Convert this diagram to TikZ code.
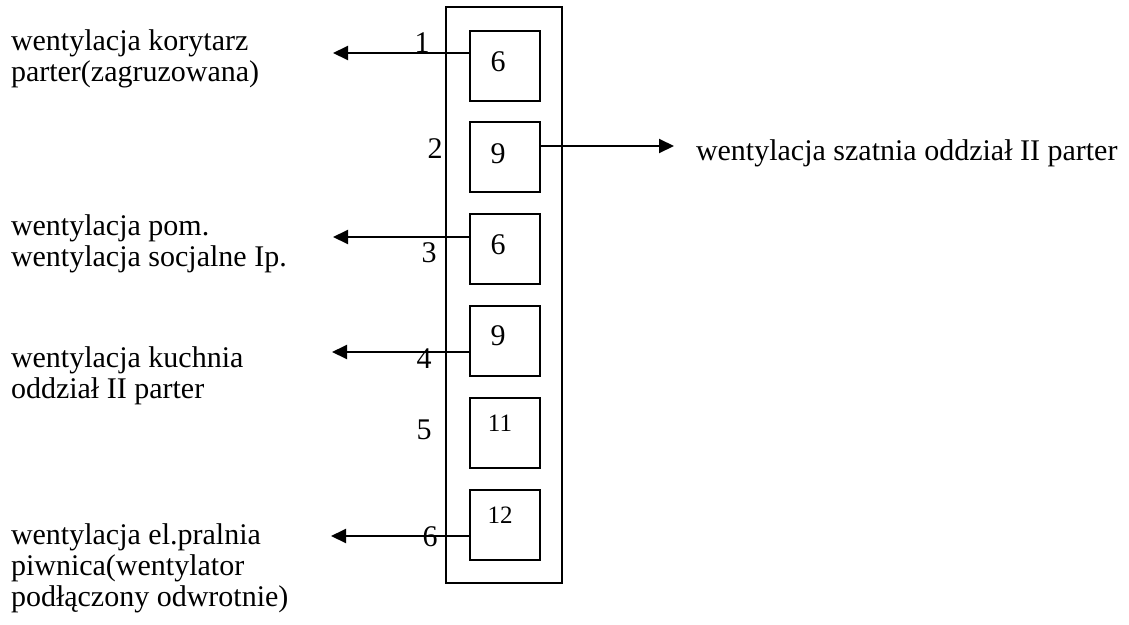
\documentclass[tikz,border=0pt]{standalone}
\usepackage{fontspec}
\setmainfont{Liberation Serif}
\usetikzlibrary{arrows.meta, positioning}

\begin{document}
\begin{tikzpicture}[x=1pt,y=-1pt,node distance=91.8pt,on grid,line width=2pt,font=\fontsize{30}{31}\selectfont]
    \tikzstyle{fan}=[shape=rectangle,draw,minimum size=70pt,inner sep=0pt]
    \tikzstyle{desc}=[anchor=base west,align=left,inner sep=0pt]
    \tikzstyle{num}=[inner sep=0pt]
    \tikzstyle{feed}=[draw,-{Triangle[length=15pt,width=14pt]}]

    \useasboundingbox (0,0) rectangle (1129,624);

    \node[fan, minimum width=116pt, minimum height=576pt] (rack) at (504,295) {};
    \node[fan] (f1) at (505,65.5) {};
    \node[fan, below of=f1] (f2) {};
    \node[fan, below of=f2] (f3) {};
    \node[fan, below of=f3] (f4) {};
    \node[fan, below of=f4] (f5) {};
    \node[fan, below of=f5] (f6) {};

    \node[num] (n1) at ([shift={(-7,-4)}]f1) {6};
    \node[num] (n2) at ([shift={(-7,-4)}]f2) {9};
    \node[num] (n3) at ([shift={(-7,-4)}]f3) {6};
    \node[num] (n4) at ([shift={(-7,-5)}]f4) {9};
    \node[num] (n5) at ([shift={(-5,-9)}]f5) {\fontsize{25}{25}\selectfont 11};
    \node[num] (n6) at ([shift={(-5,-9)}]f6) {\fontsize{25}{25}\selectfont 12};

    \node[num] (l1) at (422,43) {1};
    \node[num] (l2) at (435,149) {2};
    \node[num] (l3) at (429,253) {3};
    \node[num] (l4) at (424,359) {4};
    \node[num] (l5) at (424,430) {5};
    \node[num] (l6) at (430,537) {6};

    % base anchor = last line
    \node[desc] (d1) at (10,81) {wentylacja korytarz\\parter(zagruzowana)};
    \node[desc] (d3) at (10,266) {wentylacja pom.\\wentylacja socjalne Ip.};
    \node[desc] (d4) at (10,398) {wentylacja kuchnia\\oddział II parter};
    \node[desc] (d6) at (10,606) {wentylacja el.pralnia\\piwnica(wentylator\\podłączony odwrotnie)};
    \node[desc] (d2) at (695,160) {wentylacja szatnia oddział II parter};

    \coordinate (t1) at (333,53);
    \coordinate (t2) at (674,146);
    \coordinate (t3) at (333,237);
    \coordinate (t4) at (332,352);
    \coordinate (t6) at (331,536);

    \path
    (f1.west |- t1) edge[feed] (t1)
    (f2.east |- t2) edge[feed] (t2)
    (f3.west |- t3) edge[feed] (t3)
    (f4.west |- t4) edge[feed] (t4)
    (f6.west |- t6) edge[feed] (t6)
    ;

\end{tikzpicture}
\end{document}
